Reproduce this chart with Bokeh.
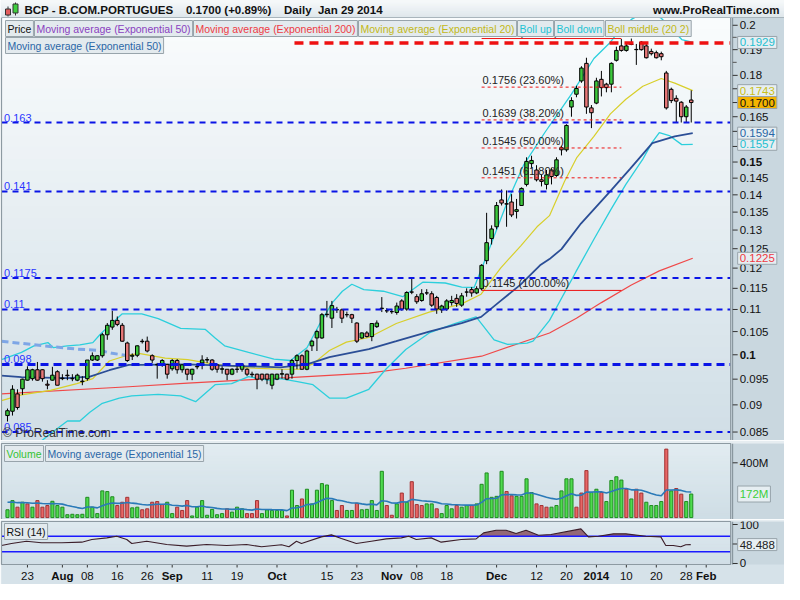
import numpy as np
from bokeh.plotting import figure
from bokeh.models import Range1d, Label, ColumnDataSource
from bokeh.layouts import column
from bokeh.embed import file_html
from bokeh.resources import INLINE
from bokeh.core.properties import value

FONT = "Liberation Sans"

# ---------------- data ----------------
first_index = -11  # Jul 17 2013, trading-day index (Aug 1 = 0)
opens = [.0880,.0888,.0921,.0931,.0948,.0951,.0969,.0969,.0940,.0948,
         .0965,.0951,.0958,.0951,.0948,.0945,.0951,.0989,.0989,.0998,
         .1043,.1060,.1075,.1064,.1025,.0997,.0999,.1029,.1029,.0998,
         .0980,.0979,.0980,.0971,.0988,.0969,.0970,.0960,.0976,.0983,
         .0989,.0989,.0979,.0970,.0970,.0960,.0970,.0970,.0970,.0960,
         .0960,.0960,.0960,.0938,.0950,.0960,.0960,.0960,.0988,.0998,
         .0970,.1019,.1036,.1036,.1088,.1080,.1099,.1099,.1088,.1088,
         .1069,.1036,.1047,.1039,.1061,.1102,.1097,.1095,.1093,.1120,
         .1101,.1141,.1130,.1121,.1139,.1137,.1128,.1099,.1101,.1116,
         .1126,.1110,.1141,.1147,.1139,.1149,.1219,.1277,.1309,.1385,
         .1374,.1379,.1352,.1369,.1431,.1495,.1475,.1445,.1431,.1475,
         .1458,.1546,.1539,.1684,.1730,.1779,.1846,.1681,.1698,.1785,
         .1767,.1767,.1858,.1915,.1897,.1923,.1900,.1930,.1915,.1893,
         .1888,.1884,.1809,.1748,.1715,.1701,.1650,.1709]
highs = [.0893,.0938,.0930,.0951,.0976,.0971,.0985,.0970,.0948,.0975,
         .0968,.0960,.0969,.0960,.0961,.0956,.0989,.1005,.0999,.1047,
         .1069,.1097,.1084,.1069,.1028,.1003,.1020,.1034,.1039,.1001,
         .0983,.0991,.0981,.0991,.0991,.0980,.0971,.0971,.0981,.0999,
         .0995,.0991,.0980,.0976,.0970,.0972,.0976,.0981,.0972,.0965,
         .0961,.0961,.0961,.0961,.0961,.0970,.0961,.0991,.1001,.1001,
         .1011,.1032,.1054,.1092,.1120,.1120,.1106,.1102,.1095,.1090,
         .1071,.1048,.1051,.1069,.1075,.1129,.1103,.1101,.1116,.1124,
         .1143,.1174,.1136,.1148,.1148,.1143,.1132,.1111,.1124,.1132,
         .1136,.1139,.1150,.1153,.1155,.1210,.1348,.1313,.1379,.1416,
         .1413,.1402,.1388,.1422,.1515,.1520,.1490,.1460,.1475,.1481,
         .1515,.1552,.1624,.1719,.1761,.1835,.1868,.1691,.1791,.1817,
         .1772,.1850,.1912,.1943,.1923,.1945,.1923,.1935,.1923,.1904,
         .1896,.1892,.1817,.1754,.1726,.1705,.1691,.1744]
lows = [.0869,.0880,.0891,.0919,.0947,.0947,.0947,.0945,.0930,.0947,
        .0938,.0948,.0948,.0946,.0946,.0938,.0947,.0987,.0987,.0994,
        .1032,.1054,.1062,.1028,.0985,.0989,.0995,.1024,.1005,.0983,
        .0951,.0975,.0951,.0967,.0961,.0963,.0948,.0948,.0970,.0970,
        .0983,.0967,.0963,.0961,.0948,.0958,.0963,.0965,.0956,.0954,
        .0930,.0946,.0940,.0930,.0948,.0951,.0948,.0951,.0970,.0970,
        .0968,.1008,.1008,.1034,.1082,.1058,.1092,.1069,.1082,.1069,
        .1025,.1034,.1037,.1029,.1058,.1094,.1092,.1090,.1088,.1097,
        .1097,.1136,.1113,.1118,.1134,.1106,.1090,.1092,.1097,.1109,
        .1106,.1106,.1130,.1130,.1136,.1145,.1210,.1261,.1302,.1369,
        .1309,.1336,.1332,.1368,.1425,.1480,.1440,.1425,.1416,.1431,
        .1454,.1521,.1533,.1650,.1719,.1772,.1660,.1611,.1694,.1722,
        .1737,.1737,.1853,.1892,.1892,.1918,.1840,.1896,.1865,.1877,
        .1865,.1858,.1675,.1698,.1630,.1630,.1630,.1630]
closes = [.0889,.0930,.0895,.0950,.0969,.0969,.0948,.0951,.0938,.0958,
          .0938,.0952,.0957,.0951,.0958,.0946,.0989,.0998,.0998,.1043,
          .1064,.1075,.1066,.1029,.0988,.0999,.1019,.1028,.1008,.0989,
          .0979,.0988,.0960,.0988,.0969,.0979,.0960,.0970,.0975,.0989,
          .0990,.0970,.0970,.0971,.0960,.0970,.0970,.0979,.0960,.0959,
          .0950,.0950,.0950,.0960,.0960,.0961,.0950,.0988,.0998,.0970,
          .1008,.1029,.1050,.1088,.1089,.1109,.1100,.1080,.1088,.1080,
          .1029,.1047,.1039,.1068,.1069,.1103,.1097,.1095,.1108,.1101,
          .1140,.1141,.1118,.1137,.1139,.1110,.1101,.1108,.1120,.1121,
          .1114,.1132,.1141,.1139,.1149,.1207,.1266,.1303,.1369,.1376,
          .1373,.1342,.1357,.1419,.1502,.1505,.1445,.1440,.1460,.1455,
          .1507,.1539,.1620,.1707,.1751,.1828,.1684,.1664,.1779,.1754,
          .1754,.1846,.1897,.1897,.1915,.1921,.1901,.1900,.1868,.1884,
          .1868,.1872,.1681,.1707,.1705,.1650,.1684,.1700]

volumes_m = [57,124,76,112,100,76,124,76,88,119,
             88,76,21,24,21,24,148,76,29,195,
             190,152,88,112,148,71,76,57,64,112,
             117,95,112,29,76,52,124,12,76,124,
             17,60,21,29,64,40,76,64,29,29,
             124,29,57,52,52,52,12,200,88,136,
             207,100,200,248,238,124,52,88,52,52,
             105,57,60,124,52,338,88,17,100,179,
             112,262,95,88,100,100,64,29,88,64,
             88,76,88,88,100,243,326,148,155,338,
             190,159,155,155,283,183,100,88,76,76,
             88,195,283,283,76,179,343,183,207,183,
             117,271,298,274,207,136,207,179,112,88,
             88,117,500,195,212,171,117,172]
volume_up = [1,1,0,1,0,1,0,0,0,1, 1,1,1,1,1,1,1,1,1,1, 1,1,0,0,0,1,1,0,0,0,
             0,0,1,1,0,0,0,1,1,1, 1,1,1,1,0,1,1,1,0,0, 0,1,1,1,1,1,0,1,1,0,
             1,1,1,1,1,1,0,0,1,1, 0,1,1,1,1,1,0,0,1,0, 1,0,0,0,1,1,0,1,1,1,
             0,1,1,0,1,1,1,1,1,1, 0,0,1,1,1,1,0,0,0,1, 1,1,1,1,0,0,0,1,1,0,
             1,1,1,1,0,1,0,0,1,1, 1,1,0,1,0,0,1,1]
vol_ema_seed = 120

# indicator lines (x = trading-day index)
ema20_x = [-12.2,-8.2,-2.4,2.9,6.1,9.4,12.7,15.3,20.6,25.1,30.6,37.3,43.7,47.6,50.2,53.5,56.9,61.4,
           66.9,73.5,80.0,83.9,87.8,91.8,95.1,97.6,100.6,103.1,106.5,109.8,112.9,116.3,120.0,122.7,126.3]
ema20_y = [.0908,.0919,.0928,.0941,.0951,.0987,.0998,.1003,.0993,.0990,.0980,.0973,.0970,.0970,.0981,.1009,.1027,.1037,
           .1068,.1094,.1113,.1136,.1200,.1257,.1309,.1340,.1440,.1515,.1583,.1660,.1712,.1759,.1788,.1771,.1743]
ema50_x = [-12.2,-8.2,1.0,5.5,9.4,13.3,15.3,25.1,43.7,49.0,53.5,61.4,66.9,73.5,80.0,83.9,87.8,91.8,95.7,97.6,
           100.0,103.9,109.8,113.7,118.2,122.7,126.3]
ema50_y = [.0957,.0954,.0952,.0955,.0968,.0979,.0979,.0980,.0974,.0980,.0995,.1012,.1029,.1050,.1069,.1083,.1120,.1159,
           .1207,.1223,.1249,.1318,.1411,.1478,.1561,.1583,.1594]
ema200_x = [-12.2,13.3,25.1,61.4,68.8,84.0,97.6,103.0,108.0,114.0,119.6,126.3]
ema200_y = [.0921,.0935,.0942,.0962,.0972,.0997,.1047,.1080,.1116,.1158,.1193,.1225]
ema50b_x = [-12.2,-3.7,2.9,7.5,10.0,13.3]
ema50b_y = [.1029,.1019,.1012,.1009,.1003,.0998]
bbup_x = [-12.2,-8.2,-5.7,-2.9,-1.8,1.0,3.5,6.1,7.5,8.8,12.0,15.9,19.2,23.7,28.6,30.6,32.5,37.3,42.4,45.7,
          49.0,51.6,54.1,56.1,58.0,60.4,64.3,68.2,72.2,76.7,80.0,82.5,84.5,86.5,89.2,91.2,92.4,96.7,102.0,
          106.5,109.8,111.8,114.0,117.0,120.0,124.1,126.3]
bbup_y = [.0990,.1005,.1019,.1026,.1015,.1019,.1021,.1026,.1043,.1057,.1090,.1090,.1079,.1057,.1055,.1036,.1019,
          .1005,.0991,.0988,.1015,.1068,.1116,.1143,.1160,.1147,.1143,.1130,.1165,.1163,.1153,.1152,.1215,.1283,
          .1381,.1448,.1490,.1597,.1730,.1865,.1930,.1983,.2025,.2060,.2030,.1941,.1929]
bblo_x = [-12.2,-6.0,-1.8,1.0,3.5,5.5,8.0,11.4,13.9,19.2,23.7,26.7,30.6,33.9,37.3,41.2,43.7,47.1,50.2,53.5,56.9,
          61.4,64.9,68.8,73.5,78.6,82.9,86.5,89.2,93.1,94.3,97.6,102.9,106.5,109.8,112.9,116.3,118.2,119.6,121.6,
          124.1,126.3]
bblo_y = [.0800,.0822,.0851,.0870,.0870,.0886,.0903,.0913,.0917,.0920,.0917,.0906,.0939,.0941,.0955,.0948,.0951,
          .0945,.0939,.0913,.0913,.0930,.0971,.1011,.1047,.1068,.1083,.1032,.1022,.1025,.1029,.1075,.1191,.1275,
          .1355,.1431,.1509,.1564,.1596,.1586,.1556,.1557]
rsi_x = [-12.2,-10.2,-7.2,-4.2,-0.1,3.9,5.9,8.9,10.9,12.9,13.9,16.9,20.9,24.9,28.9,32.9,36.9,39.9,43.9,45.4,
         46.9,47.9,51.9,53.9,55.9,58.9,61.9,64.9,67.9,69.4,70.9,73.9,75.9,79.9,82.9,84.4,86.9,88.9,90.9,92.9,
         95.4,97.9,103.9,105.4,107.4,110.4,112.9,116.9,119.9,120.9,122.4,123.9,124.9,125.9]
rsi_y = [46.2,51.3,57.2,53.0,53.0,54.7,61.5,65.7,70.0,61.5,51.3,57.2,48.7,44.5,48.7,46.2,48.7,42.8,47.9,42.8,
         57.2,51.3,68.3,73.4,64.0,51.3,57.2,63.2,65.7,70.0,61.5,65.7,54.7,61.5,63.2,78.5,85.3,85.3,76.8,85.3,
         72.6,74.3,88.7,68.3,70.0,76.0,76.0,70.0,68.3,46.2,46.2,42.8,47.9,48.488]
rsi_bands = [70, 30]

# horizontal levels
support_levels = [0.163, 0.141, 0.1175, 0.11, 0.098, 0.085]
support_labels = ["0.163", "0.141", "0.1175", "0.11", "0.098", "0.085"]
resistance_level = 0.1927
resistance_start = 46.5
fib_levels = [0.1945, 0.1756, 0.1639, 0.1545, 0.1451, 0.1145]
fib_pcts = ["0.00%", "23.60%", "38.20%", "50.00%", "61.80%", "100.00%"]
fib_x0, fib_x1 = 84.0, 112.0

price_ticks = [0.085, 0.09, 0.095, 0.1, 0.105, 0.11, 0.115, 0.12, 0.125, 0.13, 0.135,
               0.14, 0.145, 0.15, 0.155, 0.16, 0.165, 0.17, 0.175, 0.18, 0.19, 0.2]
price_minor = [0.185, 0.195]
price_bold = [0.1, 0.15]
vol_ticks = [400]
rsi_ticks = [0, 50, 100]

tick_pos = [-7, 0, 5, 11, 17, 22, 29, 35, 43, 53, 59, 66, 71, 77, 87, 95, 101, 107, 113, 119, 125, 129]
tick_lab = ["23", "Aug", "08", "16", "26", "Sep", "11", "19", "Oct", "15", "23", "Nov", "08", "18",
            "Dec", "12", "20", "2014", "10", "20", "28", "Feb"]
bold_labels = {"Aug", "Sep", "Oct", "Nov", "Dec", "2014", "Feb"}

NB = "\u00a0"
title_left = "BCP - B.COM.PORTUGUES" + NB * 4 + "0.1700 (+0.89%)" + NB * 4 + "Daily" + NB * 2 + "Jan 29 2014"
title_right = "www.ProRealTime.com"

# ---------------- layout constants ----------------
W = 784
X0, X1 = -12.2, 133.9            # chart area in trading-day units
XE = X0 + (X1 - X0) * 800.0 / 745.0  # right end incl. the price-scale strip
PPX = (W - 1) / (XE - X0)
YMIN, YMAX = 0.0835, 0.2033
MAIN_FRAME = 423.0
TITLE_H = 17.0
LN = np.log(YMAX) - np.log(YMIN)
PPU = MAIN_FRAME / LN
YTOP = float(YMAX * np.exp(TITLE_H / PPU))
VMIN, VMAX = -14, 541
RMIN, RMAX = -2.6, 107.7
H_MAIN, H_VOL, H_RSI = 440, 79, 65
RSI_FRAME = 43
XSTRIP = 20
UPP = (RMAX - RMIN) / RSI_FRAME
YBOT = RMIN - XSTRIP * UPP
BORDER = "#e6edf1"
AXBG = "#c9d7df"
EDGE = "#8d9aa2"
xr = Range1d(X0, XE)

GREEN, RED = "#3cc83c", "#e87878"
VGREEN, VRED = "#4edb4e", "#e86666"


def xs(px):
    return X1 + px / PPX


def xpx(px):
    return X0 + px / PPX


def ytb(py):
    """y value py pixels below the top of the title bar (main panel)."""
    return float(np.exp(np.log(YTOP) - py / PPU))


def yfrac(px_from_top):
    return float(np.exp(np.log(YMAX) - px_from_top / PPU))


def hexcol(c):
    return "#%02x%02x%02x" % tuple(int(round(v)) for v in c)


def gradient(f, y0, y1, c_top, c_bot, log=False, n=36, left=X0, right=X1, level="underlay"):
    edges = np.geomspace(y0, y1, n + 1) if log else np.linspace(y0, y1, n + 1)
    cols = []
    for k in range(n):
        t = (k + 0.5) / n
        cols.append(hexcol([a * t + b * (1 - t) for a, b in zip(c_top, c_bot)]))
    f.quad(left=left, right=right, bottom=edges[:-1], top=edges[1:], fill_color=cols,
           line_color=cols, line_width=1, level=level)


def mkfig(h, yr, log=False, top=0):
    f = figure(width=W, height=h, x_range=xr, y_range=yr,
               y_axis_type="log" if log else "linear",
               y_axis_location=None, x_axis_location=None,
               output_backend="svg", toolbar_location=None,
               min_border_left=1, min_border_right=0, min_border_top=top, min_border_bottom=0)
    f.grid.visible = False
    f.outline_line_color = None
    f.border_fill_color = BORDER
    f.background_fill_color = AXBG
    return f


def right_scale(f, y0, y1, ticks, labels, bold=(), minor=()):
    f.quad(left=X1, right=XE, bottom=y0, top=y1, fill_color=AXBG, line_color=None, level="underlay")
    f.segment(x0=[xs(2)], x1=[xs(2)], y0=[y0], y1=[y1], line_color="#7d8b93", line_width=1)
    f.segment(x0=xs(2), x1=xs(7), y0=ticks, y1=ticks, line_color="#333333", line_width=1)
    if minor:
        f.segment(x0=xs(2), x1=xs(6), y0=list(minor), y1=list(minor), line_color="#555555", line_width=1)
    f.text(x=[xs(9)] * len(ticks), y=ticks, text=labels,
           text_font_style=["bold" if t in bold else "normal" for t in ticks],
           text_font=value(FONT), text_font_size="11.5px", text_color="#111111",
           text_baseline="middle", text_align="left")


def outline(f, y0, y1):
    f.quad(left=X0, right=X1, bottom=y0, top=y1, fill_color=None, line_color=EDGE, line_width=1.2,
           level="overlay")


def box_label(f, x, y, text, color, size="10.5px", fill="#e3eaee", baseline="top"):
    f.add_layout(Label(x=x, y=y, text=text, text_align="left", text_baseline=baseline,
                       text_font=FONT, text_font_size=size, text_color=color,
                       background_fill_color=fill, border_line_color="#98a4ab", border_line_width=1,
                       padding=2))


# ---------------- main price panel (with title bar on top) ----------------
p = mkfig(H_MAIN, Range1d(YMIN, YTOP), log=True, top=0)

gradient(p, YMIN, YMAX, (250, 252, 253), (208, 222, 230), log=True)
right_scale(p, YMIN, YMAX, price_ticks, ["%g" % t for t in price_ticks], bold=price_bold, minor=price_minor)

# indicator lines
p.line(ema200_x, ema200_y, line_color="#f04848", line_width=1.2)
p.line(bbup_x, bbup_y, line_color="#2ccfdc", line_width=1.3)
p.line(bblo_x, bblo_y, line_color="#2ccfdc", line_width=1.3)
p.line(ema20_x, ema20_y, line_color="#d8cf2a", line_width=1.2)
p.line(ema50_x, ema50_y, line_color="#2b4e96", line_width=1.8)
p.line(ema50b_x, ema50b_y, line_color="#7ea6e6", line_width=3, line_dash="7 4")

# candles
n = len(closes)
idx = np.arange(n) + first_index
o = np.array(opens)
c = np.array(closes)
src = ColumnDataSource(dict(x=idx, h=highs, l=lows, top=np.maximum(o, c), bot=np.minimum(o, c),
                            col=[GREEN if cc >= oo else RED for oo, cc in zip(opens, closes)]))
p.segment(x0="x", y0="l", x1="x", y1="h", source=src, line_color="black", line_width=1)
p.vbar(x="x", width=0.7, top="top", bottom="bot", fill_color="col", line_color="black",
       line_width=1, source=src)

# support / resistance lines
for lev in support_levels:
    thick = lev == 0.098
    p.segment(x0=[X0], x1=[X1], y0=[lev], y1=[lev], line_color="#0a14e6",
              line_width=3 if thick else 2, line_dash="8 5" if thick else "6 5")
p.text(x=[X0 + 0.5] * len(support_levels), y=support_levels, text=support_labels,
       text_font=value(FONT), text_font_size="11px", text_color="#2a35ff", text_baseline="bottom",
       y_offset=-1)
p.segment(x0=[resistance_start], x1=[X1], y0=[resistance_level], y1=[resistance_level],
          line_color="#ee1111", line_width=3.5, line_dash="9 6")

# fibonacci retracement
for k, lev in enumerate(fib_levels):
    solid = k in (0, len(fib_levels) - 1)
    p.segment(x0=[fib_x0], x1=[fib_x1], y0=[lev], y1=[lev], line_color="#ee1111",
              line_width=1, line_dash="solid" if solid else "3 3")
p.text(x=[fib_x0 + 0.2] * len(fib_levels), y=fib_levels,
       text=["%.4f (%s)" % (lv, pc) for lv, pc in zip(fib_levels, fib_pcts)],
       text_font=value(FONT), text_font_size="11px", text_color="#222222",
       text_baseline="bottom", y_offset=-1)

p.text(x=[X0 + 0.3], y=[YMIN], text=["\u00a9 ProRealTime.com"], text_font=value(FONT),
       text_font_size="12px", text_color="#333333", text_baseline="bottom", y_offset=-1)
outline(p, YMIN, YMAX)

# title bar (drawn on top so that lines leaving the chart are hidden)
gradient(p, YMAX, YTOP, (246, 249, 250), (222, 230, 235), log=True, n=10, left=X0, right=XE, level="overlay")
p.segment(x0=[X0], x1=[XE], y0=[YMAX], y1=[YMAX], line_color="#a9b5bc", line_width=1, level="overlay")
p.text(x=[xpx(23)], y=[ytb(9)], text=[title_left], text_font=value(FONT), text_font_size="11.5px",
       text_font_style="bold", text_color="#111111", text_baseline="middle", text_align="left", level="overlay")
p.text(x=[xpx(778)], y=[ytb(9)], text=[title_right], text_font=value(FONT), text_font_size="11.5px",
       text_font_style="bold", text_color="#111111", text_baseline="middle", text_align="right", level="overlay")
p.segment(x0=[xpx(6.5), xpx(14)], x1=[xpx(6.5), xpx(14)], y0=[ytb(6), ytb(2)], y1=[ytb(16), ytb(15)],
          line_color="#333333", line_width=1, level="overlay")
p.quad(left=[xpx(4), xpx(11.5)], right=[xpx(9), xpx(16.5)], bottom=[ytb(14.5), ytb(12.5)],
       top=[ytb(8.5), ytb(3.5)], fill_color=["#e35d5d", "#3fcf3f"], line_color="#333333", line_width=1,
       level="overlay")

# legend boxes
row1 = [("Price", "#111111", 1), ("Moving average (Exponential 50)", "#8a3fc0", 30),
        ("Moving average (Exponential 200)", "#ee3a44", 189), ("Moving average (Exponential 20)", "#c2b818", 354),
        ("Boll up", "#1fc3d3", 513), ("Boll down", "#1fc3d3", 550), ("Boll middle (20 2)", "#c2b818", 601)]
for txt, col, px in row1:
    box_label(p, xpx(px + 3), yfrac(3), txt, col)
box_label(p, xpx(4), yfrac(20), "Moving average (Exponential 50)", "#2a66a6")

# price-scale value boxes
last_vals = [(bbup_y[-1], "#1fbfd0", "#e6eef2"), (ema20_y[-1], "#c9bf1a", "#e6eef2"),
             (closes[-1], "#111111", "#f4b400"), (bblo_y[-1], "#1fbfd0", "#e6eef2"),
             (ema50_y[-1], "#2a66a6", "#e6eef2"), (ema200_y[-1], "#ee3a44", "#e6eef2")]
for v, col, fill in last_vals:
    box_label(p, xs(7), v, "%.4f" % v, col, size="11.5px", fill=fill, baseline="middle")

# ---------------- volume panel ----------------
pv = mkfig(H_VOL, Range1d(VMIN, VMAX), top=3)
gradient(pv, VMIN, VMAX, (226, 236, 241), (206, 221, 229))
right_scale(pv, VMIN, VMAX, vol_ticks, ["%dM" % t for t in vol_ticks])
vsrc = ColumnDataSource(dict(x=idx, v=volumes_m,
                             fc=[VGREEN if u else VRED for u in volume_up],
                             lc=["#1f8a1f" if u else "#a23232" for u in volume_up]))
pv.vbar(x="x", top="v", bottom=0, width=0.62, fill_color="fc", line_color="lc", line_width=1, source=vsrc)
alpha = 2.0 / 16.0
vema = []
e = vol_ema_seed
for v in volumes_m:
    e = alpha * v + (1 - alpha) * e
    vema.append(e)
pv.line(idx, vema, line_color="#2a7ab8", line_width=1.6)
outline(pv, VMIN, VMAX)
vy_top = VMAX - 2 * (VMAX - VMIN) / 76.0
box_label(pv, xpx(3), vy_top, "Volume", "#33c233")
box_label(pv, xpx(44), vy_top, "Moving average (Exponential 15)", "#2a66a6")
box_label(pv, xs(7), volumes_m[-1], "%dM" % volumes_m[-1], "#3ccf3c", size="11.5px", fill="#e6eef2",
          baseline="middle")

# ---------------- RSI panel + time scale ----------------
pr = mkfig(H_RSI, Range1d(YBOT, RMAX), top=2)
gradient(pr, RMIN, RMAX, (222, 233, 239), (208, 222, 230))
right_scale(pr, RMIN, RMAX, rsi_ticks, ["%d" % t for t in rsi_ticks])

rx = np.array(rsi_x)
ry = np.array(rsi_y)
fx, fy = [rx[0]], [ry[0]]
for k in range(1, len(rx)):
    a, b = ry[k - 1], ry[k]
    if (a - 70) * (b - 70) < 0:
        t = (70 - a) / (b - a)
        fx.append(rx[k - 1] + t * (rx[k] - rx[k - 1]))
        fy.append(70.0)
    fx.append(rx[k])
    fy.append(b)
pr.varea(x=np.array(fx), y1=70, y2=np.maximum(np.array(fy), 70), fill_color="#8c5a68", fill_alpha=0.9)
pr.segment(x0=X0, x1=X1, y0=rsi_bands, y1=rsi_bands, line_color="#1a1aff", line_width=1.5)
pr.line(rx, ry, line_color="#3c1e2a", line_width=1.1)
outline(pr, RMIN, RMAX)
box_label(pr, xpx(3), RMAX - 2 * UPP, "RSI (14)", "#111111")
box_label(pr, xs(7), rsi_y[-1], "%.3f" % rsi_y[-1], "#222222", size="11.5px", fill="#e6eef2",
          baseline="middle")

# time scale strip
pr.quad(left=X0, right=XE, bottom=YBOT, top=RMIN, fill_color="#d6e2e9", line_color=None, level="underlay")
pr.segment(x0=tick_pos, x1=tick_pos, y0=RMIN, y1=RMIN - 3 * UPP, line_color="#333333", line_width=1)
pr.text(x=tick_pos, y=[RMIN - 11.5 * UPP] * len(tick_pos), text=tick_lab,
        text_font_style=["bold" if t in bold_labels else "normal" for t in tick_lab],
        text_font=value(FONT), text_font_size="11.5px", text_color="#111111",
        text_align="center", text_baseline="middle")

layout = column(p, pv, pr, spacing=0)
open("out.html", "w").write(file_html(layout, INLINE))
